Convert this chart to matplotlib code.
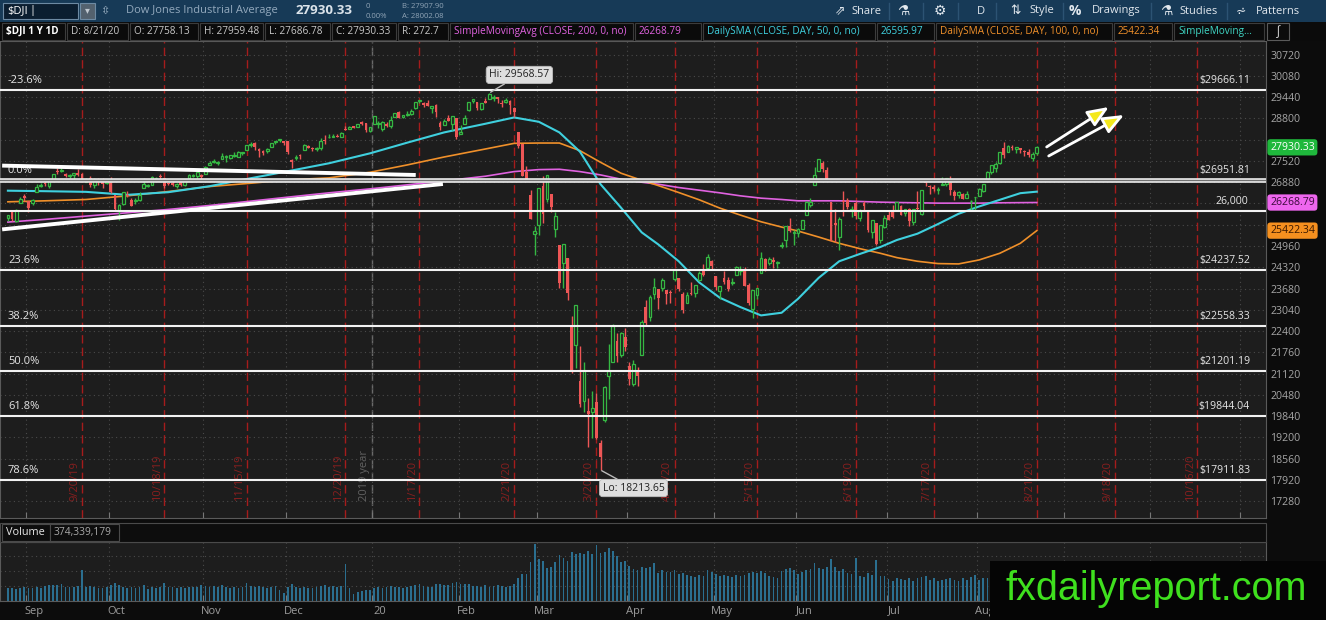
import numpy as np
import pandas as pd
import matplotlib
matplotlib.use('Agg')
import matplotlib.pyplot as plt
from matplotlib.patches import Rectangle
from matplotlib.transforms import blended_transform_factory

plt.rcParams['font.family'] = ['Open Sans', 'DejaVu Sans']

# ---------------- data ----------------
holidays = ['2019-09-02', '2019-11-28', '2019-12-25', '2020-01-01', '2020-01-20',
            '2020-02-17', '2020-04-10', '2020-05-25', '2020-07-03', '2020-09-07']

# daily candles 8/26/19 .. 8/21/20, one row per month
opens = [
    25790, 26030, 25710, 26260, 26460,
    26300, 26250, 26590, 26770, 26860, 26780, 26930, 27190, 27220, 27130, 27080, 27100, 27160, 27120, 26900, 27000, 26800, 26980, 26930, 26850,
    26960, 26500, 26040, 26220, 26510, 26350, 26300, 26340, 26700, 26760, 26810, 26990, 27080, 27000, 26830, 26860, 26760, 26890, 26810, 27000, 27060, 27070, 27100,
    27130, 27390, 27480, 27460, 27590, 27630, 27600, 27680, 27650, 27770, 27840, 27990, 28070, 27870, 27830, 27830, 27930, 28090, 28150, 28120,
    28110, 27560, 27600, 27700, 27860, 27970, 27900, 27870, 27920, 28150, 28230, 28250, 28270, 28250, 28460, 28490, 28570, 28540, 28680, 28650, 28420,
    28640, 28630, 28470, 28640, 28560, 28850, 29000, 28850, 28900, 28940, 29100, 29330, 29270, 29270, 29100, 29200, 28670, 28600, 28820, 28640, 28810,
    28320, 28630, 29050, 29330, 29290, 29070, 29340, 29400, 29420, 29440, 29280, 29300, 29320, 29120, 28400, 28030, 27180, 26500, 25310,
    25590, 26760, 26380, 26540, 25460, 24990, 24450, 24600, 22550, 21970, 20900, 20300, 20000, 19950, 20250, 19030, 19720, 21050, 21470, 22100, 21680, 22220,
    21340, 20810, 21230, 21690, 23130, 22820, 23500, 23670, 23700, 23620, 23550, 23970, 24000, 23520, 23250, 23550, 23550, 23950, 24250, 24310, 24520,
    24050, 23610, 24000, 23950, 23860, 24100, 24200, 24250, 23800, 23050, 23480, 24140, 24580, 24440, 24540, 24450, 24960, 25130, 25560, 25350,
    25340, 25480, 25890, 26200, 26800, 27230, 27450, 27250, 26280, 25660, 25230, 26320, 26340, 26050, 26250, 25800, 26240, 26000, 25370, 25640, 25150, 25520,
    25880, 26000, 26050, 26150, 25950, 26080, 25690, 26090, 25930, 26910, 26760, 26750, 26650, 26800, 26840, 26990, 26600, 26500, 26530, 26400, 26300, 26420,
    26480, 26630, 26920, 27200, 27300, 27450, 27900, 27800, 27950, 27870, 27900, 27830, 27800, 27600, 27758.13,
]
highs = [
    25900, 26040, 26060, 26420, 26520,
    26320, 26380, 26830, 26860, 26910, 26920, 27140, 27310, 27310, 27150, 27130, 27150, 27270, 27170, 27020, 27080, 27010, 27000, 27000, 26960,
    27050, 26500, 26220, 26580, 26620, 26400, 26400, 26600, 27000, 26830, 27060, 27030, 27140, 27020, 26870, 26950, 26850, 26930, 26990, 27130, 27130, 27190, 27120,
    27370, 27510, 27570, 27520, 27770, 27690, 27690, 27800, 27810, 27800, 28010, 28090, 28090, 27900, 27850, 27900, 28070, 28120, 28170, 28130,
    28110, 27580, 27710, 27720, 28020, 28010, 27950, 27930, 28200, 28290, 28340, 28330, 28330, 28380, 28580, 28580, 28580, 28620, 28710, 28660, 28550,
    28870, 28720, 28710, 28690, 28870, 28960, 29010, 28910, 29010, 29090, 29300, 29370, 29290, 29370, 29180, 29240, 28720, 28770, 28890, 28870, 28810,
    28590, 28890, 29300, 29380, 29290, 29280, 29420, 29568.57, 29500, 29440, 29350, 29410, 29370, 29140, 28400, 28030, 27360, 26640, 25560,
    26710, 27080, 27100, 26540, 25990, 24990, 25020, 24600, 22840, 23190, 21960, 21460, 20380, 20600, 20530, 19120, 20730, 22020, 22600, 22330, 22380, 22480,
    21480, 21530, 21310, 22730, 23330, 23480, 24010, 23670, 24010, 23620, 23620, 24260, 24000, 23570, 23580, 23880, 23800, 24210, 24420, 24720, 24550,
    24050, 23760, 24200, 24020, 24000, 24360, 24370, 24330, 23840, 23640, 23690, 24770, 24600, 24630, 24630, 24500, 25090, 25550, 25810, 25450,
    25500, 25750, 26300, 26400, 27340, 27580, 27520, 27350, 26280, 26070, 25840, 26610, 26400, 26160, 26320, 26070, 26300, 26020, 25750, 25640, 25600, 25900,
    26000, 26200, 26290, 26190, 26080, 26090, 26080, 26630, 26660, 26990, 26800, 26800, 26740, 27030, 27010, 27070, 26650, 26610, 26570, 26630, 26330, 26430,
    26700, 26830, 27230, 27390, 27490, 27790, 28090, 28000, 28010, 27940, 27910, 27850, 27880, 27790, 27959.48,
]
lows = [
    25720, 25700, 25670, 26240, 26310,
    25980, 26200, 26590, 26740, 26770, 26720, 26920, 27130, 27200, 27030, 27010, 26930, 27080, 26900, 26880, 26730, 26700, 26810, 26700, 26830,
    26570, 26010, 25740, 26200, 26440, 26150, 26230, 26300, 26700, 26740, 26800, 26940, 26990, 26700, 26790, 26780, 26700, 26780, 26780, 26990, 27030, 26970, 26930,
    27130, 27390, 27460, 27390, 27580, 27500, 27590, 27640, 27630, 27700, 27840, 27940, 27860, 27630, 27690, 27750, 27930, 28030, 28100, 28010,
    27730, 27320, 27560, 27580, 27860, 27900, 27830, 27830, 27850, 28030, 28220, 28230, 28230, 28240, 28450, 28480, 28500, 28530, 28600, 28380, 28380,
    28630, 28500, 28420, 28550, 28500, 28850, 28800, 28810, 28870, 28900, 29090, 29270, 29140, 29180, 28950, 28840, 28440, 28590, 28730, 28450, 28170,
    28320, 28620, 29030, 29260, 29060, 29060, 29260, 29400, 29330, 29280, 29130, 29280, 28920, 28840, 27920, 27060, 26920, 25760, 24680,
    25300, 25650, 26290, 25990, 25230, 23710, 23690, 23330, 21150, 21290, 20120, 19950, 18920, 19180, 19140, 18213.65, 19650, 20350, 21470, 21470, 21620, 21810,
    20770, 20740, 20740, 21690, 22560, 22700, 23360, 23060, 23590, 23220, 23240, 23910, 23600, 22940, 23250, 23470, 23420, 23920, 24050, 24300, 24240,
    23620, 23360, 23830, 23600, 23780, 24100, 24100, 23760, 23170, 22790, 23360, 24140, 24200, 24400, 24300, 24290, 24900, 24930, 25370, 25000,
    25230, 25470, 25890, 26130, 26800, 27230, 27180, 26950, 25100, 25080, 24840, 25860, 26080, 25820, 25760, 25700, 26030, 25390, 25210, 24990, 25050, 25510,
    25730, 25800, 26050, 25880, 25860, 25560, 25600, 26050, 25880, 26780, 26530, 26620, 26540, 26800, 26780, 26490, 26350, 26400, 26370, 26400, 26050, 26010,
    26480, 26600, 26920, 27140, 27200, 27420, 27620, 27780, 27840, 27760, 27770, 27660, 27640, 27510, 27686.78,
]
closes = [
    25899, 25778, 26036, 26362, 26403,
    26118, 26356, 26728, 26797, 26835, 26909, 27137, 27182, 27220, 27076, 27111, 27147, 27094, 26935, 26949, 26808, 26970, 26891, 26820, 26917,
    26573, 26079, 26201, 26573, 26478, 26164, 26347, 26497, 26817, 26787, 27025, 27001, 27026, 26770, 26828, 26788, 26834, 26806, 26958, 27091, 27071, 27186, 27046,
    27347, 27462, 27492, 27493, 27675, 27681, 27691, 27691, 27784, 27782, 28005, 28036, 27934, 27821, 27766, 27876, 28066, 28122, 28164, 28051,
    27783, 27503, 27650, 27678, 28015, 27910, 27882, 27911, 28132, 28135, 28235, 28268, 28240, 28377, 28455, 28551, 28516, 28621, 28645, 28462, 28538,
    28868, 28635, 28703, 28583, 28745, 28957, 28824, 28907, 28940, 29030, 29298, 29348, 29196, 29186, 29160, 28990, 28535, 28723, 28734, 28859, 28256,
    28400, 28808, 29291, 29380, 29103, 29277, 29276, 29551, 29424, 29398, 29232, 29348, 29220, 28992, 27961, 27081, 26957, 25766, 25409,
    26703, 25917, 27091, 26121, 25865, 23851, 25018, 23553, 21200, 23186, 20189, 21237, 19899, 20087, 19174, 18592, 20705, 21200, 22552, 21637, 22327, 21917,
    20944, 21413, 21053, 22680, 22654, 23434, 23719, 23390, 23949, 23505, 23538, 24242, 23650, 23019, 23475, 23516, 23775, 24134, 24101, 24634, 24346,
    23724, 23750, 23883, 23664, 23875, 24331, 24222, 23765, 23248, 23625, 23685, 24597, 24207, 24576, 24474, 24465, 24995, 25548, 25401, 25383,
    25475, 25742, 26270, 26282, 27111, 27572, 27273, 26990, 25128, 25606, 25763, 26290, 26120, 26080, 25871, 26025, 26156, 25446, 25745, 25016, 25596, 25813,
    25735, 25827, 26287, 25890, 26067, 25706, 26075, 26086, 26643, 26870, 26735, 26672, 26681, 26841, 27006, 26653, 26470, 26585, 26379, 26540, 26314, 26428,
    26664, 26828, 27202, 27387, 27433, 27791, 27687, 27977, 27897, 27931, 27845, 27779, 27693, 27740, 27930.33,
]
# volume, millions of shares
volumes = [
    250, 240, 230, 240, 260,
    240, 250, 270, 240, 280, 290, 300, 290, 310, 270, 260, 270, 280, 570, 270, 280, 260, 250, 240, 260,
    300, 330, 290, 270, 240, 270, 240, 260, 290, 230, 270, 250, 260, 340, 260, 270, 250, 260, 240, 260, 270, 260, 290,
    280, 270, 280, 260, 290, 260, 240, 260, 250, 260, 330, 280, 270, 280, 260, 250, 270, 280, 200, 150,
    270, 310, 270, 250, 260, 250, 240, 260, 280, 290, 270, 280, 270, 280, 690, 240, 130, 160, 190, 210, 200,
    240, 260, 250, 260, 280, 260, 270, 250, 270, 280, 290, 310, 280, 270, 270, 310, 320, 290, 290, 330, 360,
    310, 310, 320, 280, 280, 270, 300, 270, 280, 290, 280, 270, 280, 310, 430, 510, 500, 720, 1060,
    780, 740, 620, 640, 720, 850, 800, 740, 920, 870, 900, 880, 930, 880, 1040, 900, 920, 990, 940, 830, 720, 740,
    660, 590, 570, 630, 610, 630, 700, 530, 570, 540, 550, 570, 510, 530, 490, 470, 440, 490, 460, 570, 540,
    500, 470, 480, 460, 450, 480, 470, 490, 530, 550, 520, 560, 520, 470, 450, 420, 560, 600, 620, 580,
    510, 540, 580, 600, 700, 620, 600, 640, 780, 640, 560, 600, 520, 500, 800, 470, 450, 520, 480, 760, 460, 470,
    410, 380, 420, 410, 400, 420, 380, 430, 450, 460, 400, 420, 380, 400, 410, 430, 400, 380, 420, 400, 440, 480,
    400, 420, 430, 410, 380, 420, 450, 400, 380, 360, 330, 350, 360, 340, 374,
]

# moving averages read at sample dates
sma_dates = ['2019-08-26', '2019-09-09', '2019-09-23', '2019-10-07', '2019-10-21', '2019-11-04',
             '2019-11-18', '2019-12-02', '2019-12-16', '2019-12-31', '2020-01-14', '2020-01-28',
             '2020-02-11', '2020-02-21', '2020-03-02', '2020-03-09', '2020-03-16', '2020-03-23',
             '2020-03-30', '2020-04-06', '2020-04-13', '2020-04-20', '2020-04-27', '2020-05-04',
             '2020-05-11', '2020-05-18', '2020-05-26', '2020-06-01', '2020-06-08', '2020-06-15',
             '2020-06-22', '2020-06-29', '2020-07-06', '2020-07-13', '2020-07-20', '2020-07-27',
             '2020-08-03', '2020-08-10', '2020-08-17', '2020-08-21']
sma50 = [26625, 26610, 26590, 26500, 26580, 26760, 27000, 27210, 27450, 27750, 28070, 28380,
         28640, 28830, 28700, 28380, 27800, 26820, 26110, 25370, 25010, 24500, 23860, 23400,
         23120, 22870, 22950, 23370, 24000, 24500, 24720, 24930, 25140, 25330, 25620, 25930,
         26150, 26350, 26550, 26595.97]
sma100 = [26290, 26320, 26360, 26470, 26600, 26750, 26850, 26950, 27010, 27180, 27400, 27640,
          27880, 28050, 28060, 28060, 27830, 27480, 27150, 26940, 26780, 26570, 26350, 26100,
          25890, 25690, 25530, 25410, 25230, 25040, 24880, 24740, 24610, 24500, 24430, 24420,
          24540, 24740, 25040, 25422.34]
sma200 = [25680, 25760, 25860, 25960, 26060, 26180, 26310, 26430, 26560, 26680, 26800, 26920,
          27060, 27200, 27260, 27270, 27200, 27100, 26970, 26880, 26820, 26720, 26640, 26560,
          26470, 26400, 26360, 26320, 26320, 26320, 26300, 26280, 26270, 26260, 26250, 26250,
          26250, 26260, 26265, 26268.79]

expiry_dates = ['2019-09-20', '2019-10-18', '2019-11-15', '2019-12-20', '2020-01-17', '2020-02-21',
                '2020-03-20', '2020-04-17', '2020-05-15', '2020-06-19', '2020-07-17', '2020-08-21',
                '2020-09-18', '2020-10-16']
expiry_labels = ['9/20/19', '10/18/19', '11/15/19', '12/20/19', '1/17/20', '2/21/20', '3/20/20',
                 '4/17/20', '5/15/20', '6/19/20', '7/17/20', '8/21/20', '9/18/20', '10/16/20']

month_labels = ['Sep', 'Oct', 'Nov', 'Dec', '20', 'Feb', 'Mar', 'Apr', 'May', 'Jun', 'Jul', 'Aug']

fib_labels = ['-23.6%', '0.0%', '23.6%', '38.2%', '50.0%', '61.8%', '78.6%']
fib_prices = [29666.11, 26951.81, 24237.52, 22558.33, 21201.19, 19844.04, 17911.83]
round_level = 26000

# hand drawn lines on the chart: (trading-day index, price) pairs
trend_lines = [((-1.4, 27380), (99.1, 27098)), ((-1.4, 25460), (105.7, 26827))]
arrows = [((252.4, 27941), (267.5, 29145)), ((252.9, 27670), (271.2, 28904))]

last_close, last_sma200, last_sma100 = 27930.33, 26268.79, 25422.34

# ---------------- setup ----------------
cal = pd.bdate_range('2019-08-26', '2020-11-30')
cal = cal[~cal.isin(pd.to_datetime(holidays))]
pos = {d.strftime('%Y-%m-%d'): i for i, d in enumerate(cal)}

o = np.array(opens, float)
h = np.array(highs, float)
l = np.array(lows, float)
c = np.array(closes, float)
n = len(c)
idx = np.arange(n)

W, H = 1326, 620
BG = '#1d1d1d'
GREEN, RED = '#35b843', '#ee5656'
CYAN, ORANGE, MAGENTA = '#3fd0de', '#f0902a', '#e062e0'
GRID = '#4a4a4a'

fig = plt.figure(figsize=(W / 100, H / 100), dpi=100, facecolor='#0c0c0c')


def fx(x):
    return x / W


def fy(y):
    return 1 - y / H


def rect(x0, y0, x1, y1, fc, ec='none', lw=0.8, z=1):
    fig.add_artist(Rectangle((fx(x0), fy(y1)), (x1 - x0) / W, (y1 - y0) / H,
                             transform=fig.transFigure, fc=fc, ec=ec, lw=lw, zorder=z))


def txt(x, y, s, **kw):
    kw.setdefault('va', 'center')
    kw.setdefault('zorder', 6)
    fig.text(fx(x), fy(y), s, **kw)


# ---------------- price panel ----------------
ax = fig.add_axes([0, fy(518), 1266 / W, (518 - 41) / H])
ax.set_facecolor(BG)
ax.set_xlim(-1.92, 305.7)
ax.set_ylim(16770, 31132)

month_starts = []
for i in range(1, len(cal)):
    if cal[i].month != cal[i - 1].month:
        month_starts.append(i)
month_starts = np.array(month_starts)

badges = [(last_close, '#1fb83c', 'white'), (last_sma200, '#ee66ee', '#3a0a3a'),
          (last_sma100, '#f5901f', '#3a1800')]

ax.set_xticks(month_starts - 0.5)
ax.tick_params(axis='x', direction='in', length=4, color='#777777', labelbottom=False)
yt = np.arange(17280, 30721, 640)
ax.set_yticks(yt)
# tick labels that sit under the price badges are hidden, as on the platform
ax.set_yticklabels(['' if min(abs(v - b[0]) for b in badges) < 330 else str(v) for v in yt])
ax.yaxis.tick_right()
ax.tick_params(axis='y', length=0, pad=3, labelsize=7.6, labelcolor='#a6a6a6')
ax.grid(True, color=GRID, linestyle=(0, (1, 3)), linewidth=0.8)
for s in ax.spines.values():
    s.set_color('#5a5a5a')

# option expiry markers
tr = blended_transform_factory(ax.transData, ax.transAxes)
for d, lab in zip(expiry_dates, expiry_labels):
    i = pos[d]
    ax.axvline(i, color='#a51c1c', lw=1, ls=(0, (6, 3)), zorder=1)
    ax.text(i - 0.4, 0.035, lab, transform=tr, rotation=90, ha='right', va='bottom',
            color='#8a1f1f', fontsize=8, zorder=1)
year_x = pos['2019-12-31'] + 0.5
ax.axvline(year_x, color='#6a6a6a', lw=1, ls=(0, (6, 3)), zorder=1)
ax.text(year_x - 0.4, 0.035, '2019 year', transform=tr, rotation=90, ha='right', va='bottom',
        color='#626262', fontsize=8, zorder=1)

# moving averages
sx = [pos[d] for d in sma_dates]
ax.plot(sx, sma200, color=MAGENTA, lw=1.2, zorder=2)
ax.plot(sx, sma100, color=ORANGE, lw=1.2, zorder=2)
ax.plot(sx, sma50, color=CYAN, lw=1.5, zorder=2)

# candles
up = c >= o
col = np.where(up, GREEN, RED)
ax.vlines(idx, l, h, colors=col, lw=1, zorder=3)
bottom = np.minimum(o, c)
height = np.maximum(np.abs(c - o), 25)
ax.bar(idx[up], height[up], bottom=bottom[up], width=0.68, facecolor=BG,
       edgecolor=GREEN, linewidth=0.9, zorder=4)
ax.bar(idx[~up], height[~up], bottom=bottom[~up], width=0.68, color=RED,
       linewidth=0, zorder=4)

# fibonacci levels
for lab, p in zip(fib_labels, fib_prices):
    if lab == '0.0%':
        ax.axhline(p, color='#e4e4e4', lw=3.4, zorder=5)
        ax.axhline(p, color='#707070', lw=0.9, zorder=5)
    else:
        ax.axhline(p, color='#f2f2f2', lw=1.5, zorder=5)
    ax.annotate(lab, xy=(8 / 1266, p), xycoords=('axes fraction', 'data'),
                xytext=(0, 3), textcoords='offset points', ha='left', va='bottom',
                color='#e6e6e6', fontsize=8, zorder=6)
    ax.annotate('$%.2f' % p, xy=(1250 / 1266, p), xycoords=('axes fraction', 'data'),
                xytext=(0, 3), textcoords='offset points', ha='right', va='bottom',
                color='#e6e6e6', fontsize=7.6, zorder=6)
ax.axhline(round_level, color='#f2f2f2', lw=1.5, zorder=5)
ax.annotate('{:,}'.format(round_level), xy=(1248 / 1266, round_level),
            xycoords=('axes fraction', 'data'), xytext=(0, 3), textcoords='offset points',
            ha='right', va='bottom', color='#e6e6e6', fontsize=7.6, zorder=6)

# trend lines and arrows
for (x0, y0), (x1, y1) in trend_lines:
    ax.plot([x0, x1], [y0, y1], color='white', lw=2.8, solid_capstyle='butt', zorder=6)
for (x0, y0), (x1, y1) in arrows:
    ax.annotate('', xy=(x1, y1), xytext=(x0, y0),
                arrowprops=dict(arrowstyle='-|>,head_length=0.8,head_width=0.33',
                                ec='white', fc='#f4e81c', lw=2, mutation_scale=16,
                                shrinkA=0, shrinkB=0), zorder=7)

# hi / lo callouts
hi_i = int(np.argmax(h))
lo_i = int(np.argmin(l))
box = dict(boxstyle='round,pad=0.3,rounding_size=0.3', fc='#dedede', ec='#bdbdbd', lw=0.6)
ax.annotate('Hi: %.2f' % h[hi_i], xy=(hi_i, h[hi_i]), xytext=(30, 18), textcoords='offset pixels',
            ha='center', va='center', fontsize=7.5, color='#222222', bbox=box,
            arrowprops=dict(arrowstyle='-', color='#bbbbbb', lw=1, shrinkA=0, shrinkB=1), zorder=8)
ax.annotate('Lo: %.2f' % l[lo_i], xy=(lo_i, l[lo_i]), xytext=(33, -18), textcoords='offset pixels',
            ha='center', va='center', fontsize=7.5, color='#222222', bbox=box,
            arrowprops=dict(arrowstyle='-', color='#bbbbbb', lw=1, shrinkA=0, shrinkB=1), zorder=8)

# price badges on the axis
trb = blended_transform_factory(ax.transAxes, ax.transData)
for val, fc, tc in badges:
    ax.text(1 + 4 / 1266, val, '%.2f' % val, transform=trb, ha='left', va='center',
            fontsize=7.6, color=tc, clip_on=False, zorder=10,
            bbox=dict(boxstyle='round,pad=0.25,rounding_size=0.3', fc=fc, ec='none'))

# ---------------- volume panel ----------------
rect(0, 523, 1266, 542, '#0d0d0d', ec='#4a4a4a')
rect(2, 524, 50, 541, '#0d0d0d', ec='#4a4a4a')
rect(50, 524, 119, 541, '#0d0d0d', ec='#4a4a4a')
txt(6, 532.5, 'Volume', color='#e8e8e8', fontsize=7.8)
txt(54, 532.5, '374,339,179', color='#a8a8a8', fontsize=7.4)

axv = fig.add_axes([0, fy(601), 1266 / W, (601 - 542) / H])
axv.set_facecolor(BG)
axv.set_xlim(ax.get_xlim())
axv.set_ylim(0, 1100)
axv.bar(idx, volumes, width=0.42, color='#2b6f90', zorder=2)
axv.set_xticks(month_starts - 0.5)
axv.set_yticks([280, 560, 840])
axv.tick_params(axis='both', direction='in', length=4, color='#777777',
                labelbottom=False, labelleft=False)
axv.tick_params(axis='y', length=0)
axv.grid(True, color=GRID, linestyle=(0, (1, 3)), linewidth=0.8)
for s in axv.spines.values():
    s.set_color('#5a5a5a')
trv = blended_transform_factory(axv.transData, axv.transAxes)
for lab, i in zip(month_labels, month_starts):
    axv.text(i + 1.4, -0.17, lab, transform=trv, ha='center', va='center',
             color='#9c9c9c', fontsize=8, clip_on=False)

# ---------------- toolbar ----------------
rect(0, 0, W, 22, '#173a57')
rect(3, 3, 78, 19, '#0b1e30', ec='#6d8aa3')
rect(80, 3, 95, 19, '#53616e', ec='#6d8aa3')
txt(7, 11, '$DJI', color='white', fontsize=8)
txt(29, 11, '|', color='white', fontsize=8)
txt(87.5, 11, '\u25BE', color='#c0c8d0', fontsize=7, ha='center')
txt(105, 11, '\u21F3', color='#9fb3c5', fontsize=8, ha='center')
txt(126, 11, 'Dow Jones Industrial Average', color='#93a9bd', fontsize=8)
txt(296, 11, '27930.33', color='#dbe3ea', fontsize=9.6, fontweight='bold')
txt(366, 7, '0', color='#8fa3b5', fontsize=5.6)
txt(366, 16, '0.00%', color='#8fa3b5', fontsize=5.6)
txt(402, 7, 'B: 27907.90', color='#8fa3b5', fontsize=5.6)
txt(402, 16, 'A: 28002.08', color='#8fa3b5', fontsize=5.6)

for xs in [889, 923, 958, 996, 1063, 1151, 1227]:
    fig.add_artist(plt.Line2D([fx(xs), fx(xs)], [fy(3), fy(19)], transform=fig.transFigure,
                              color='#2c5373', lw=1))
tool_items = [(835, '\u21D7', 9), (851, 'Share', 8), (897, '\u2697', 10), (934, '\u2699', 10),
              (977, 'D', 8), (1010, '\u21C5', 9), (1029, 'Style', 8), (1069, '%', 10),
              (1092, 'Drawings', 8), (1160, '\u2697', 10), (1179, 'Studies', 8),
              (1236, '\u2A6B', 9), (1256, 'Patterns', 8)]
for xs, s, fs in tool_items:
    txt(xs, 11, s, color='#e2e8ee', fontsize=fs, fontweight='bold' if s == '%' else 'normal')

# ---------------- legend bar ----------------
rect(0, 22, W, 41, '#0b0b0b')
legend_items = [
    ('$DJI 1 Y 1D', 2, 65, 'white', 'bold'),
    ('D: 8/21/20', 67, 128, '#c8c8c8', 'normal'),
    ('O: 27758.13', 130, 198, '#c8c8c8', 'normal'),
    ('H: 27959.48', 200, 263, '#c8c8c8', 'normal'),
    ('L: 27686.78', 265, 330, '#c8c8c8', 'normal'),
    ('C: 27930.33', 332, 396, '#c8c8c8', 'normal'),
    ('R: 272.7', 398, 448, '#c8c8c8', 'normal'),
    ('SimpleMovingAvg (CLOSE, 200, 0, no)', 450, 633, MAGENTA, 'normal'),
    ('26268.79', 635, 701, MAGENTA, 'normal'),
    ('DailySMA (CLOSE, DAY, 50, 0, no)', 703, 875, CYAN, 'normal'),
    ('26595.97', 877, 934, CYAN, 'normal'),
    ('DailySMA (CLOSE, DAY, 100, 0, no)', 936, 1112, ORANGE, 'normal'),
    ('25422.34', 1114, 1172, ORANGE, 'normal'),
    ('SimpleMoving...', 1174, 1264, '#3fd6c4', 'normal'),
]
for s, x0, x1, colr, wt in legend_items:
    rect(x0, 23, x1, 40, '#0b0b0b', ec='#3c3c3c')
    txt(x0 + 4, 31.5, s, color=colr, fontsize=7.2, fontweight=wt)
rect(1267, 23, 1289, 40, '#0b0b0b', ec='#5a5a5a')
txt(1278, 31.5, '\u222B', color='#d8d8d8', fontsize=9, ha='center')

# ---------------- watermark ----------------
rect(990, 561, W, H, '#050505', z=5)
txt(1156, 600, 'fxdailyreport.com', color='#3fe01e', fontsize=28.5, ha='center',
    va='baseline', family=['Liberation Sans', 'DejaVu Sans'])

fig.savefig('out.png', dpi=100, facecolor=fig.get_facecolor())
